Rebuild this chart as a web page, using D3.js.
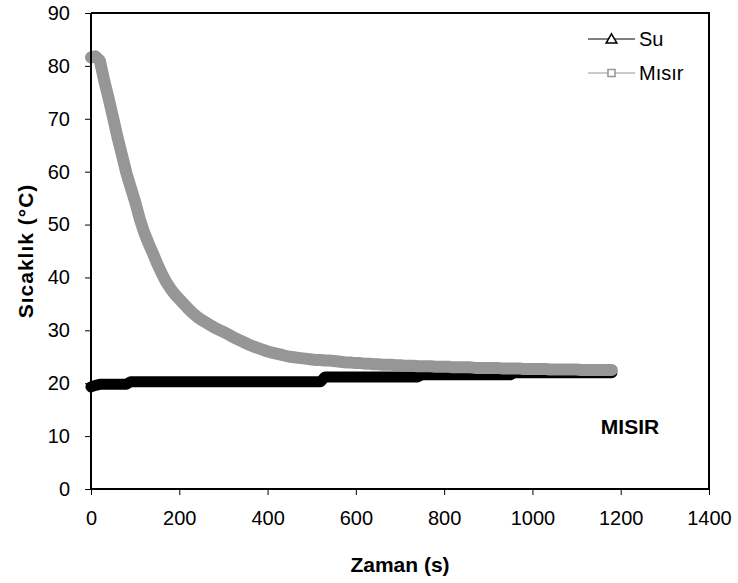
<!DOCTYPE html>
<html lang="tr">
<head>
<meta charset="UTF-8">
<title>MISIR</title>
<style>
  body { margin: 0; background: #fff; }
  text { font-family: "Liberation Sans", Arial, sans-serif; }
</style>
</head>
<body>
<script src="https://d3js.org/d3.v7.min.js"></script>
<script>

  // time (s)
  var zaman = [0, 10, 20, 30, 40, 50, 60, 70, 80, 90,
    100, 110, 120, 130, 140, 150, 160, 170, 180, 190,
    200, 210, 220, 230, 240, 250, 260, 270, 280, 290,
    300, 310, 320, 330, 340, 350, 360, 370, 380, 390,
    400, 410, 420, 430, 440, 450, 460, 470, 480, 490,
    500, 510, 520, 530, 540, 550, 560, 570, 580, 590,
    600, 610, 620, 630, 640, 650, 660, 670, 680, 690,
    700, 710, 720, 730, 740, 750, 760, 770, 780, 790,
    800, 810, 820, 830, 840, 850, 860, 870, 880, 890,
    900, 910, 920, 930, 940, 950, 960, 970, 980, 990,
    1000, 1010, 1020, 1030, 1040, 1050, 1060, 1070, 1080, 1090,
    1100, 1110, 1120, 1130, 1140, 1150, 1160, 1170, 1180];

  // water temperature (°C)
  var su = [19.3, 19.6, 19.8, 19.8, 19.8, 19.8, 19.8, 19.8, 19.8, 20.3,
    20.3, 20.3, 20.3, 20.3, 20.3, 20.3, 20.3, 20.3, 20.3, 20.3,
    20.3, 20.3, 20.3, 20.3, 20.3, 20.3, 20.3, 20.3, 20.3, 20.3,
    20.3, 20.3, 20.3, 20.3, 20.3, 20.3, 20.3, 20.3, 20.3, 20.3,
    20.3, 20.3, 20.3, 20.3, 20.3, 20.3, 20.3, 20.3, 20.3, 20.3,
    20.3, 20.3, 20.3, 21.2, 21.2, 21.2, 21.2, 21.2, 21.2, 21.2,
    21.2, 21.2, 21.2, 21.2, 21.2, 21.2, 21.2, 21.2, 21.2, 21.2,
    21.2, 21.2, 21.2, 21.2, 21.2, 21.6, 21.6, 21.6, 21.6, 21.6,
    21.6, 21.6, 21.6, 21.6, 21.6, 21.6, 21.6, 21.6, 21.6, 21.6,
    21.6, 21.6, 21.6, 21.6, 21.6, 21.6, 22.0, 22.0, 22.0, 22.0,
    22.0, 22.0, 22.0, 22.0, 22.0, 22.0, 22.0, 22.0, 22.0, 22.0,
    22.0, 22.0, 22.0, 22.0, 22.0, 22.0, 22.0, 22.0, 22.0];

  // corn temperature (°C)
  var misir = [81.6, 81.8, 81.0, 77.2, 73.8, 70.2, 66.5, 63.2, 59.8, 57.0,
    54.3, 51.2, 48.6, 46.5, 44.6, 42.6, 40.8, 39.2, 37.9, 36.8,
    35.9, 35.0, 34.1, 33.3, 32.6, 32.0, 31.5, 31.0, 30.5, 30.1,
    29.7, 29.3, 28.8, 28.4, 28.0, 27.6, 27.2, 26.9, 26.6, 26.3,
    26.0, 25.8, 25.6, 25.4, 25.2, 25.0, 24.9, 24.8, 24.7, 24.6,
    24.5, 24.4, 24.4, 24.3, 24.3, 24.2, 24.1, 24.0, 23.9, 23.9,
    23.8, 23.8, 23.7, 23.7, 23.6, 23.6, 23.5, 23.5, 23.5, 23.4,
    23.4, 23.3, 23.3, 23.3, 23.2, 23.2, 23.2, 23.2, 23.1, 23.1,
    23.1, 23.1, 23.0, 23.0, 23.0, 23.0, 23.0, 22.9, 22.9, 22.9,
    22.9, 22.9, 22.9, 22.8, 22.8, 22.8, 22.8, 22.8, 22.7, 22.7,
    22.7, 22.7, 22.7, 22.7, 22.6, 22.6, 22.6, 22.6, 22.6, 22.6,
    22.6, 22.5, 22.5, 22.5, 22.5, 22.5, 22.5, 22.5, 22.5];

  var xTicks = [0, 200, 400, 600, 800, 1000, 1200, 1400];
  var yTicks = [0, 10, 20, 30, 40, 50, 60, 70, 80, 90];

  var margin = {top: 13, right: 29, bottom: 94, left: 91},
      width = 738 - margin.left - margin.right,
      height = 583 - margin.top - margin.bottom;

  var svg = d3.select("body").append("svg")
      .attr("width", 738)
      .attr("height", 583);

  var g = svg.append("g")
      .attr("transform", "translate(" + margin.left + "," + margin.top + ")");

  var x = d3.scaleLinear().domain([0, 1400]).range([0, width]);
  var y = d3.scaleLinear().domain([0, 90]).range([height, 0]);

  // data bands (markers sit so close they merge into a thick line)
  var line = function(vals) {
    return d3.line()
      .x(function(d, i) { return x(zaman[i]); })
      .y(function(d) { return y(d); })(vals);
  };

  g.append("path")
      .attr("d", line(su))
      .attr("fill", "none")
      .attr("stroke", "#000")
      .attr("stroke-width", 11)
      .attr("stroke-linejoin", "round")
      .attr("stroke-linecap", "round");

  g.append("path")
      .attr("d", line(misir))
      .attr("fill", "none")
      .attr("stroke", "#969696")
      .attr("stroke-width", 12)
      .attr("stroke-linejoin", "round")
      .attr("stroke-linecap", "round");

  // frame
  g.append("path")
      .attr("d", "M0,0H" + width + "V" + height)
      .attr("fill", "none")
      .attr("stroke", "#000")
      .attr("stroke-width", 2);

  // axes
  var xAxis = g.append("g")
      .attr("transform", "translate(0," + height + ")")
      .call(d3.axisBottom(x).tickValues(xTicks).tickFormat(d3.format("d"))
        .tickSize(6).tickPadding(16));
  var yAxis = g.append("g")
      .call(d3.axisLeft(y).tickValues(yTicks).tickFormat(d3.format("d"))
        .tickSize(6).tickPadding(15));

  [xAxis, yAxis].forEach(function(a) {
    a.select(".domain").attr("stroke", "#000").attr("stroke-width", 2);
    a.selectAll(".tick line").attr("stroke", "#000").attr("stroke-width", 1);
    a.selectAll(".tick text")
      .attr("fill", "#000")
      .style("font-family", "'Liberation Sans', Arial, sans-serif")
      .style("font-size", "20px");
  });
  xAxis.select(".domain").attr("d", "M0,0H" + width);
  yAxis.select(".domain").attr("d", "M0,0V" + height);

  // axis titles
  svg.append("text")
      .attr("x", margin.left + width / 2)
      .attr("y", 572)
      .attr("text-anchor", "middle")
      .style("font-size", "21px")
      .style("font-weight", "bold")
      .text("Zaman (s)");

  svg.append("text")
      .attr("transform", "translate(33," + (margin.top + height / 2) + ") rotate(-90)")
      .attr("text-anchor", "middle")
      .style("font-size", "21px")
      .style("font-weight", "bold")
      .style("letter-spacing", "1px")
      .text("Sıcaklık (°C)");

  svg.append("text")
      .attr("x", 630)
      .attr("y", 434)
      .attr("text-anchor", "middle")
      .style("font-size", "21px")
      .style("font-weight", "bold")
      .text("MISIR");

  // legend
  var legend = [
    {name: "Su", color: "#000", shape: d3.symbolTriangle},
    {name: "Mısır", color: "#969696", shape: d3.symbolSquare}
  ];
  var lg = svg.append("g").attr("transform", "translate(588,39)");
  legend.forEach(function(d, i) {
    var row = lg.append("g").attr("transform", "translate(0," + (i * 34) + ")");
    row.append("line")
        .attr("x1", 0).attr("x2", 47)
        .attr("stroke", d.color).attr("stroke-width", 1);
    row.append("path")
        .attr("transform", "translate(23.5," + (i === 0 ? 1 : 0) + ")")
        .attr("d", d3.symbol().type(d.shape).size(i === 0 ? 50 : 50)())
        .attr("fill", "#fff")
        .attr("stroke", d.color)
        .attr("stroke-width", 1.5);
    row.append("text")
        .attr("x", 51)
        .attr("y", 7)
        .style("font-size", "20px")
        .text(d.name);
  });

</script>
</body>
</html>
